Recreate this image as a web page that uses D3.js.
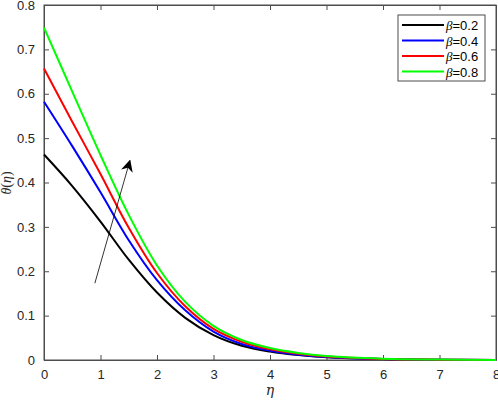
<!DOCTYPE html>
<html>
<head>
<meta charset="utf-8">
<script src="https://cdn.jsdelivr.net/npm/d3@7"></script>
<style>
  body { margin: 0; background: #fff; }
  text { font-family: "Liberation Sans", Arial, Helvetica, sans-serif; }
</style>
</head>
<body>
<div id="chart"></div>
<script>
const width = 498;
const height = 402;
const margin = {top: 5, right: 2, bottom: 42, left: 44};

// eta grid shared by every curve
const eta = [0, 0.5, 1, 1.5, 2, 2.5, 3, 3.5, 4, 4.5, 5, 6, 7, 8];

// theta(eta) for each beta
const theta02 = [0.463, 0.392, 0.312, 0.226, 0.152, 0.095, 0.056, 0.032, 0.019, 0.011, 0.006, 0.002, 0.0005, 0];
const theta04 = [0.582, 0.482, 0.378, 0.270, 0.180, 0.112, 0.064, 0.036, 0.021, 0.012, 0.007, 0.002, 0.0006, 0];
const theta06 = [0.657, 0.537, 0.419, 0.298, 0.196, 0.121, 0.070, 0.041, 0.024, 0.014, 0.008, 0.0025, 0.0007, 0];
const theta08 = [0.749, 0.605, 0.462, 0.327, 0.213, 0.131, 0.077, 0.045, 0.027, 0.016, 0.009, 0.003, 0.001, 0];

const betaLabels = ['0.2', '0.4', '0.6', '0.8'];
const colors = ['#000000', '#0000ff', '#ff0000', '#00ff00'];

const xTicks = [0, 1, 2, 3, 4, 5, 6, 7, 8];
const yTicks = [0, 0.1, 0.2, 0.3, 0.4, 0.5, 0.6, 0.7, 0.8];

// arrow annotation (data coords): tail -> head
const arrowFrom = [0.90, 0.173];
const arrowTo = [1.52, 0.449];

const series = [theta02, theta04, theta06, theta08].map((vals, i) => ({
  label: betaLabels[i],
  color: colors[i],
  points: eta.map((e, j) => [e, vals[j]])
}));

const svg = d3.select('#chart')
  .append('svg')
  .attr('width', width)
  .attr('height', height);

const x = d3.scaleLinear()
  .domain([0, 8])
  .range([margin.left, width - margin.right]);

const y = d3.scaleLinear()
  .domain([0, 0.8])
  .range([height - margin.bottom, margin.top]);

const axisColor = '#4d4d4d';
const tickLen = 5;

// plot frame
svg.append('rect')
  .attr('x', x(0))
  .attr('y', y(0.8))
  .attr('width', x(8) - x(0))
  .attr('height', y(0) - y(0.8))
  .attr('fill', 'none')
  .attr('stroke', axisColor)
  .attr('stroke-width', 1);

// Axes: inward ticks on all four sides
const xAxis = d3.axisBottom(x).tickValues(xTicks).tickSizeInner(-tickLen).tickSizeOuter(0).tickPadding(10).tickFormat(d3.format('d'));
const gx = svg.append('g')
  .attr('transform', `translate(0,${y(0)})`)
  .call(xAxis);

const yAxis = d3.axisLeft(y).tickValues(yTicks).tickSizeInner(-tickLen).tickSizeOuter(0).tickPadding(9).tickFormat(d => d === 0 ? '0' : d3.format('.1f')(d));
const gy = svg.append('g')
  .attr('transform', `translate(${x(0)},0)`)
  .call(yAxis);

const gTop = svg.append('g')
  .attr('transform', `translate(0,${y(0.8)})`)
  .call(d3.axisTop(x).tickValues(xTicks).tickSizeInner(-tickLen).tickSizeOuter(0).tickFormat(''));

const gRight = svg.append('g')
  .attr('transform', `translate(${x(8)},0)`)
  .call(d3.axisRight(y).tickValues(yTicks).tickSizeInner(-tickLen).tickSizeOuter(0).tickFormat(''));

[gx, gy, gTop, gRight].forEach(g => {
  g.select('.domain').attr('stroke', axisColor);
  g.selectAll('.tick line').attr('stroke', axisColor);
  g.selectAll('.tick text')
    .attr('fill', '#262626')
    .style('font-size', '13px')
    .style('font-family', '"Liberation Sans", Arial, sans-serif');
});

// curves
const line = d3.line()
  .x(d => x(d[0]))
  .y(d => y(d[1]))
  .curve(d3.curveCatmullRom.alpha(0.5));

svg.selectAll('.curve')
  .data(series)
  .enter()
  .append('path')
  .attr('class', 'curve')
  .attr('d', d => line(d.points))
  .attr('fill', 'none')
  .attr('stroke', d => d.color)
  .attr('stroke-width', 2);

// arrow
svg.append('defs').append('marker')
  .attr('id', 'arrowhead')
  .attr('viewBox', '0 0 10 10')
  .attr('refX', 9)
  .attr('refY', 5)
  .attr('markerWidth', 12)
  .attr('markerHeight', 12)
  .attr('markerUnits', 'userSpaceOnUse')
  .attr('orient', 'auto')
  .append('path')
  .attr('d', 'M0,0 L10,5 L0,10 L3,5 Z')
  .attr('fill', '#000');

svg.append('line')
  .attr('x1', x(arrowFrom[0]))
  .attr('y1', y(arrowFrom[1]))
  .attr('x2', x(arrowTo[0]))
  .attr('y2', y(arrowTo[1]))
  .attr('stroke', '#000')
  .attr('stroke-width', 0.8)
  .attr('marker-end', 'url(#arrowhead)');

// axis titles
svg.append('text')
  .attr('x', x(4))
  .attr('y', 395)
  .attr('text-anchor', 'middle')
  .style('font-family', '"DejaVu Serif", "Liberation Serif", serif')
  .style('font-style', 'italic')
  .style('font-size', '14px')
  .attr('fill', '#262626')
  .text('η');

svg.append('text')
  .attr('transform', 'translate(11,183) rotate(-90)')
  .attr('text-anchor', 'middle')
  .style('font-family', '"Liberation Serif", "Times New Roman", serif')
  .style('font-size', '14px')
  .attr('fill', '#262626')
  .html('<tspan font-style="italic">θ</tspan>(<tspan font-style="italic">η</tspan>)');

// legend
const legendX = 398;
const legendY = 15;
const legend = svg.append('g')
  .attr('transform', `translate(${legendX},${legendY})`);

legend.append('rect')
  .attr('width', 87)
  .attr('height', 66)
  .attr('fill', '#fff')
  .attr('stroke', axisColor)
  .attr('stroke-width', 1);

const rows = legend.selectAll('.row')
  .data(series)
  .enter()
  .append('g')
  .attr('class', 'row')
  .attr('transform', (d, i) => `translate(0,${10 + i * 15.5})`);

rows.append('line')
  .attr('x1', 4)
  .attr('x2', 46)
  .attr('stroke', d => d.color)
  .attr('stroke-width', 2);

const labels = rows.append('text')
  .attr('x', 48)
  .attr('y', 5)
  .style('font-size', '13px')
  .attr('fill', '#000');
labels.append('tspan')
  .style('font-family', '"Liberation Serif", "Times New Roman", serif')
  .style('font-style', 'italic')
  .text('β');
labels.append('tspan')
  .text(d => '=' + d.label);
</script>
</body>
</html>
